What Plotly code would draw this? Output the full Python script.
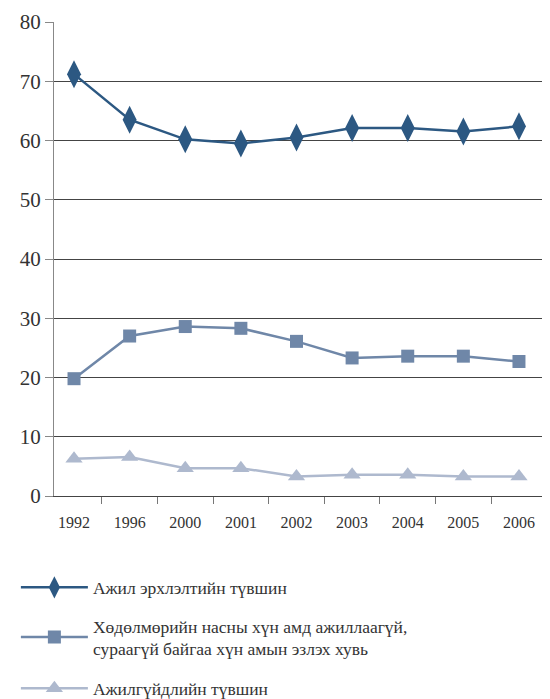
import plotly.graph_objects as go

years = ["1992", "1996", "2000", "2001", "2002", "2003", "2004", "2005", "2006"]
employment = [71.2, 63.5, 60.2, 59.5, 60.5, 62.1, 62.1, 61.5, 62.4]
inactive = [19.8, 27.0, 28.6, 28.3, 26.1, 23.3, 23.6, 23.6, 22.7]
unemployment = [6.3, 6.6, 4.7, 4.7, 3.3, 3.6, 3.6, 3.3, 3.3]

names = [
    "Ажил эрхлэлтийн түвшин",
    "Хөдөлмөрийн насны хүн амд ажиллаагүй,<br>сураагүй байгаа хүн амын эзлэх хувь",
    "Ажилгүйдлийн түвшин",
]
colors = ["#2C5882", "#6F87A8", "#AEB9CE"]
symbols = ["diamond-tall", "square", "triangle-up"]
sizes = [20, 13, 15]
legend_ids = ["legend", "legend2", "legend3"]

SERIF = "Liberation Serif, Times New Roman, DejaVu Serif, serif"

fig = go.Figure()
for i, vals in enumerate([employment, inactive, unemployment]):
    fig.add_trace(go.Scatter(
        x=years, y=vals, mode="lines+markers", name=names[i],
        legend=legend_ids[i],
        line=dict(color=colors[i], width=2.5),
        marker=dict(symbol=symbols[i], size=sizes[i], color=colors[i]),
    ))

legend_common = dict(
    x=-0.077, xanchor="left", yanchor="top", orientation="v",
    itemwidth=67, bgcolor="rgba(0,0,0,0)",
    font=dict(size=17.5, family=SERIF, color="#333333"),
)

fig.update_layout(
    width=542, height=691,
    margin=dict(l=46, r=1, t=14, b=203, autoexpand=False),
    paper_bgcolor="white", plot_bgcolor="white",
    font=dict(family=SERIF, color="#333333"),
    showlegend=True,
    legend=dict(y=-0.155, **legend_common),
    legend2=dict(y=-0.236, **legend_common),
    legend3=dict(y=-0.368, **legend_common),
    xaxis=dict(
        type="category", range=[-0.36, 8.54], showgrid=False, showline=True,
        linecolor="#444444", linewidth=1,
        ticks="outside", tickson="boundaries", ticklen=7, tickcolor="#777777",
        tickfont=dict(size=16, family=SERIF),
        ticklabelstandoff=12, automargin=False,
        zeroline=False,
    ),
    yaxis=dict(
        range=[0, 80], dtick=10, showgrid=True, gridcolor="#444444", gridwidth=1,
        showline=True, linecolor="#888888", linewidth=1,
        ticks="outside", ticklen=8, tickcolor="#888888",
        tickfont=dict(size=21, family=SERIF),
        zeroline=False, automargin=False,
    ),
)

fig.write_html("out.html")
